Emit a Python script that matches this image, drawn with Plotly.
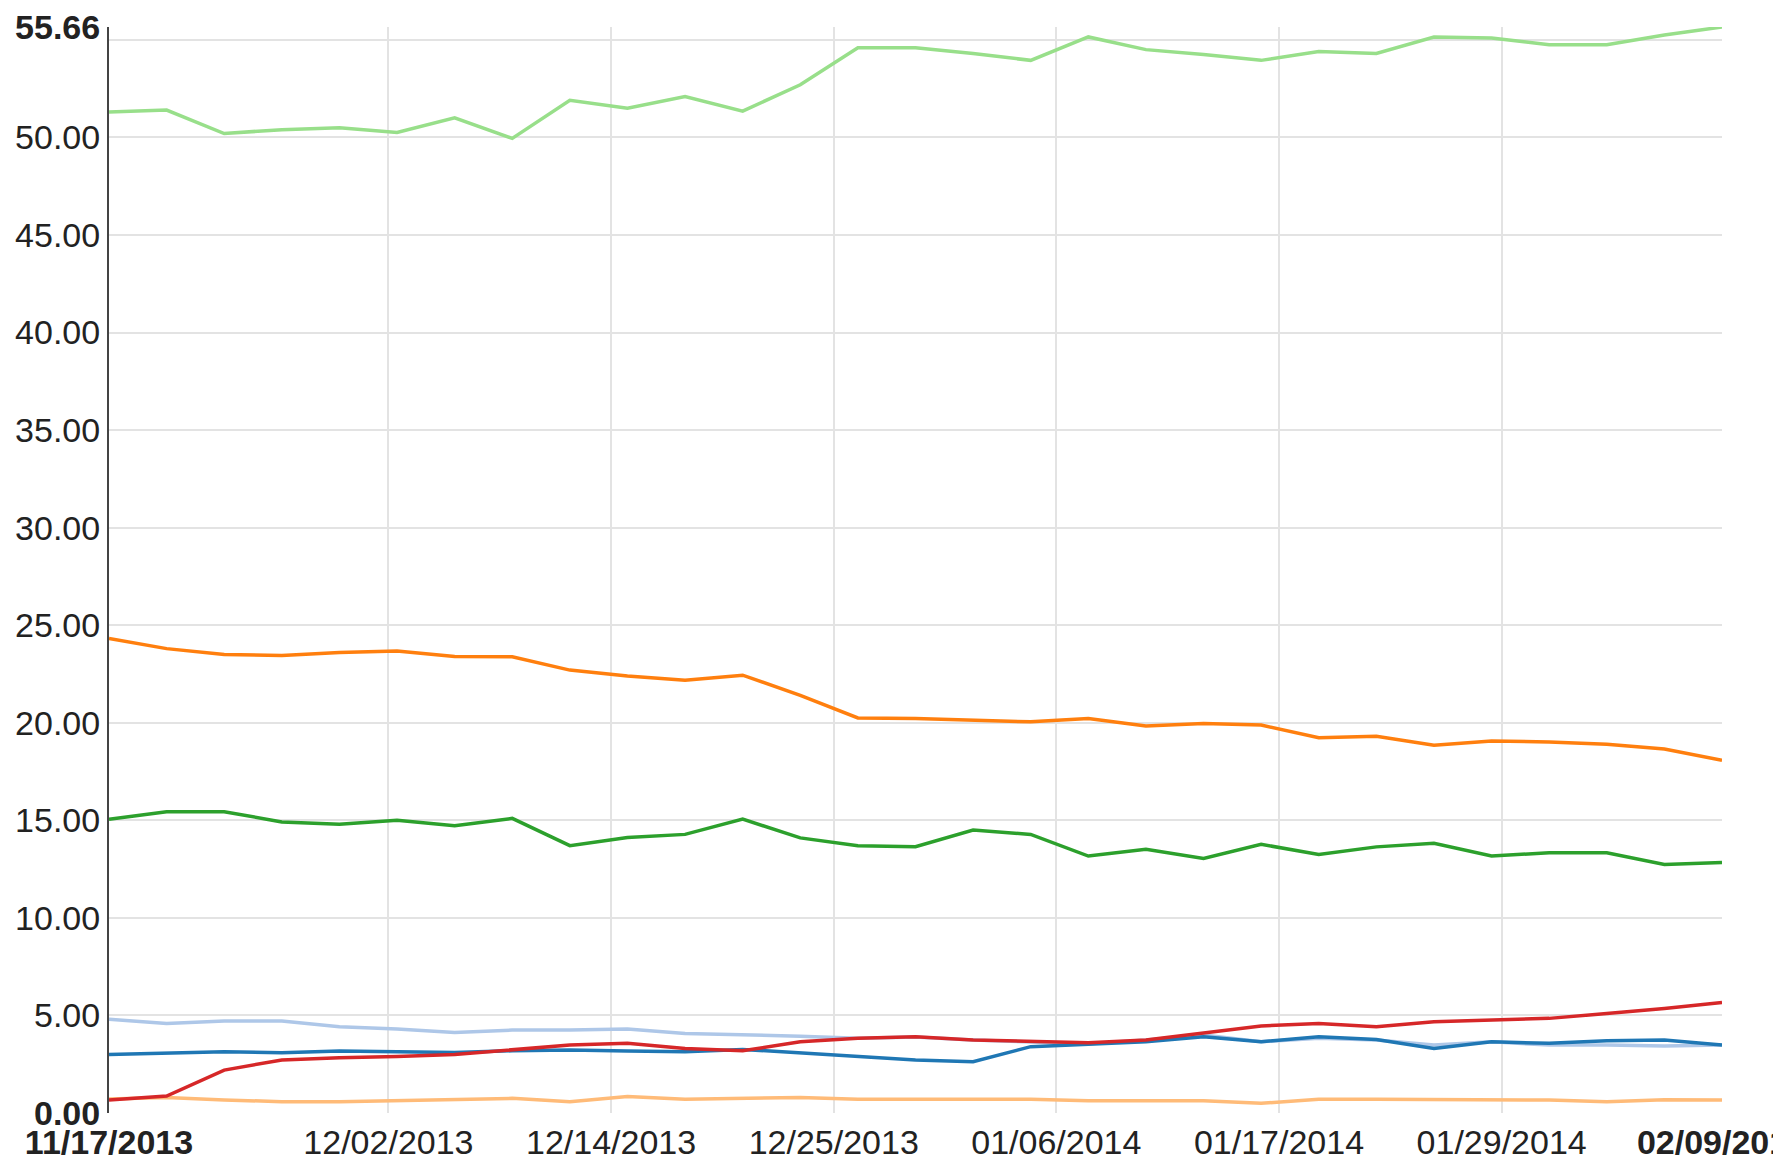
import plotly.graph_objects as go

dates = ["2013-11-17", "2013-11-20", "2013-11-23", "2013-11-26", "2013-11-29",
         "2013-12-02", "2013-12-05", "2013-12-08", "2013-12-11", "2013-12-14",
         "2013-12-17", "2013-12-20", "2013-12-23", "2013-12-26", "2013-12-29",
         "2014-01-01", "2014-01-04", "2014-01-07", "2014-01-10", "2014-01-13",
         "2014-01-16", "2014-01-19", "2014-01-22", "2014-01-25", "2014-01-28",
         "2014-01-31", "2014-02-03", "2014-02-06", "2014-02-09"]

light_green = [51.3, 51.4, 50.2, 50.4, 50.5, 50.25, 51.0, 49.95, 51.9, 51.5, 52.1, 51.35, 52.7, 54.6, 54.6,
               54.3, 53.95, 55.15, 54.5, 54.25, 53.95, 54.4, 54.3, 55.15, 55.1, 54.75, 54.75, 55.25, 55.66]
orange = [24.32, 23.8, 23.5, 23.45, 23.6, 23.68, 23.4, 23.38, 22.7, 22.4, 22.18, 22.44, 21.4, 20.25, 20.22,
          20.13, 20.05, 20.22, 19.84, 19.96, 19.88, 19.23, 19.31, 18.85, 19.06, 19.02, 18.9, 18.65, 18.08]
green = [15.06, 15.44, 15.44, 14.92, 14.8, 15.01, 14.72, 15.1, 13.7, 14.12, 14.28, 15.06, 14.1, 13.7, 13.65,
         14.5, 14.28, 13.17, 13.52, 13.05, 13.77, 13.25, 13.64, 13.82, 13.17, 13.34, 13.34, 12.74, 12.84]
light_blue = [4.8, 4.59, 4.71, 4.71, 4.42, 4.3, 4.12, 4.25, 4.25, 4.3, 4.08, 4.03, 3.94, 3.83, 3.9,
              3.74, 3.65, 3.55, 3.74, 4.0, 3.65, 3.83, 3.74, 3.48, 3.65, 3.48, 3.48, 3.43, 3.48]
blue = [3.0, 3.09, 3.14, 3.09, 3.18, 3.14, 3.1, 3.19, 3.23, 3.18, 3.14, 3.26, 3.09, 2.89, 2.72,
        2.63, 3.4, 3.52, 3.65, 3.91, 3.65, 3.91, 3.77, 3.31, 3.65, 3.57, 3.7, 3.74, 3.48]
red = [0.67, 0.87, 2.2, 2.72, 2.83, 2.89, 3.0, 3.23, 3.48, 3.57, 3.31, 3.19, 3.65, 3.83, 3.91,
       3.74, 3.65, 3.6, 3.74, 4.08, 4.46, 4.59, 4.42, 4.68, 4.76, 4.85, 5.1, 5.36, 5.67]
light_orange = [0.72, 0.8, 0.67, 0.58, 0.58, 0.63, 0.67, 0.75, 0.58, 0.84, 0.7, 0.75, 0.8, 0.7, 0.7,
                0.7, 0.7, 0.63, 0.65, 0.63, 0.5, 0.7, 0.7, 0.68, 0.68, 0.66, 0.58, 0.68, 0.66]

x_tick_vals = ["2013-11-17", "2013-12-01 13:15", "2013-12-13 03:30", "2013-12-24 17:47",
               "2014-01-05 08:02", "2014-01-16 22:19", "2014-01-28 12:35", "2014-02-09"]
x_tick_text = ["<b>11/17/2013</b>", "12/02/2013", "12/14/2013", "12/25/2013",
               "01/06/2014", "01/17/2014", "01/29/2014", "<b>02/09/2014</b>"]
x_grid_vals = x_tick_vals[1:-1]

y_tick_vals = [0, 5, 10, 15, 20, 25, 30, 35, 40, 45, 50, 55.66]
y_tick_text = ["<b>0.00</b>", "5.00", "10.00", "15.00", "20.00", "25.00", "30.00", "35.00",
               "40.00", "45.00", "50.00", "<b>55.66</b>"]
y_grid_vals = [0, 5, 10, 15, 20, 25, 30, 35, 40, 45, 50, 55]

series = [
    ("Light green", light_green, "#98df8a"),
    ("Orange", orange, "#ff7f0e"),
    ("Green", green, "#2ca02c"),
    ("Light orange", light_orange, "#ffbb78"),
    ("Light blue", light_blue, "#aec7e8"),
    ("Blue", blue, "#1f77b4"),
    ("Red", red, "#d62728"),
]

fig = go.Figure()
for name, vals, color in series:
    fig.add_trace(go.Scatter(x=dates, y=vals, mode="lines", name=name,
                             line=dict(color=color, width=3.5)))

font = dict(family="Arial, Liberation Sans, sans-serif", size=34, color="#222222")

fig.update_layout(
    width=1773, height=1154,
    margin=dict(l=101, r=59, t=19, b=49),
    paper_bgcolor="white", plot_bgcolor="white",
    showlegend=False,
    font=font,
)
fig.update_xaxes(
    type="date", range=["2013-11-17", "2014-02-09"],
    tickmode="array", tickvals=x_tick_vals, ticktext=x_tick_text,
    showgrid=False, showline=False, zeroline=False,
    ticks="", ticklabelstandoff=6, automargin=False,
    ticklabeloverflow="allow",
    tickfont=font,
    minor=dict(tickmode="array", tickvals=x_grid_vals, showgrid=True,
               gridcolor="#e3e3e3", gridwidth=2, ticks=""),
)
fig.update_yaxes(
    range=[0, 55.66],
    tickmode="array", tickvals=y_tick_vals, ticktext=y_tick_text,
    showgrid=False, zeroline=False,
    showline=True, linecolor="#444444", linewidth=2,
    ticks="", ticklabelstandoff=0, automargin=False,
    ticklabeloverflow="allow",
    tickfont=font,
    minor=dict(tickmode="array", tickvals=y_grid_vals, showgrid=True,
               gridcolor="#e3e3e3", gridwidth=2, ticks=""),
)

fig.write_html("out.html")
